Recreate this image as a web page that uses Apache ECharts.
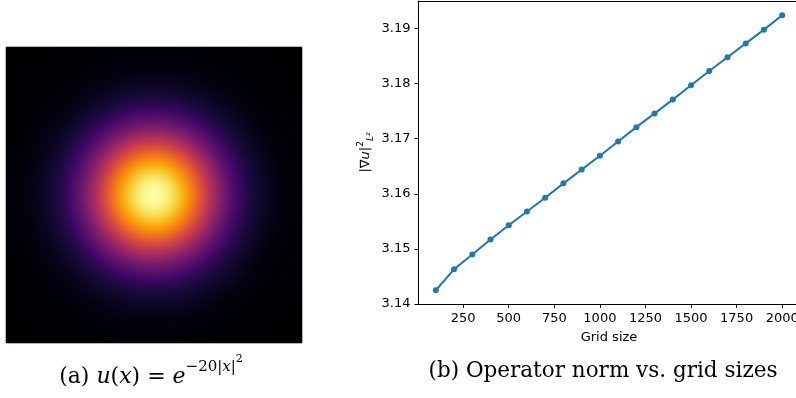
<!DOCTYPE html>
<html>
<head>
<meta charset="utf-8">
<script src="https://cdn.jsdelivr.net/npm/echarts@6/dist/echarts.min.js"></script>
<style>
  html, body { margin: 0; padding: 0; background: #fff; }
  #chart { width: 796px; height: 398px; }
</style>
</head>
<body>
<div id="chart"></div>
<script>
// Operator norm measured at each grid size
const gridSizes = [100, 200, 300, 400, 500, 600, 700, 800, 900, 1000,
                   1100, 1200, 1300, 1400, 1500, 1600, 1700, 1800, 1900, 2000];
const operatorNorms = [3.1425, 3.1463, 3.1490, 3.1517, 3.1543, 3.1568, 3.1593, 3.1619, 3.1644, 3.1669,
                       3.1695, 3.1721, 3.1746, 3.1771, 3.1797, 3.1823, 3.1848, 3.1873, 3.1898, 3.1924];
const xTicks = [250, 500, 750, 1000, 1250, 1500, 1750, 2000];
const yTicks = [3.14, 3.15, 3.16, 3.17, 3.18, 3.19];

// Test function u(x) = exp(-decayRate * |x|^2) sampled on [-0.5, 0.5]^2
const decayRate = 20;
const imageCells = 148;
const inferno = ['#000004', '#160b39', '#420a68', '#6a176e', '#932667', '#bc3754',
                 '#dd513a', '#f37819', '#fca50a', '#f6d746', '#fcffa4'];

const cellIndex = [];
for (let i = 0; i < imageCells; i++) cellIndex.push(i);
const fieldValues = [];
for (let i = 0; i < imageCells; i++) {
  const x = -0.5 + (i + 0.5) / imageCells;
  for (let j = 0; j < imageCells; j++) {
    const y = -0.5 + (j + 0.5) / imageCells;
    fieldValues.push([i, j, Math.exp(-decayRate * (x * x + y * y))]);
  }
}

const normPoints = gridSizes.map((g, k) => [g, operatorNorms[k]]);

const tickFont = { fontFamily: 'DejaVu Sans', fontSize: 13, color: '#000' };
const spine = { show: true, lineStyle: { color: '#000', width: 1 } };

const chart = echarts.init(document.getElementById('chart'), null, { renderer: 'canvas' });
chart.setOption({
  animation: false,
  backgroundColor: '#fff',
  grid: [
    { left: 6, top: 47, width: 296, height: 296, containLabel: false, outerBoundsMode: 'none' },
    { left: 418.5, top: 1, width: 381, height: 303, containLabel: false, outerBoundsMode: 'none' }
  ],
  visualMap: {
    type: 'continuous', show: false, seriesIndex: 0, min: 0, max: 1,
    inRange: { color: inferno }
  },
  xAxis: [
    { type: 'category', gridIndex: 0, data: cellIndex, show: false },
    {
      type: 'value', gridIndex: 1, min: 5, max: 2095, position: 'bottom',
      axisLine: Object.assign({ onZero: false }, spine),
      axisTick: { show: true, inside: false, length: 4, customValues: xTicks, lineStyle: { color: '#000', width: 1 } },
      axisLabel: Object.assign({ customValues: xTicks, margin: 8, formatter: v => String(v) }, tickFont),
      splitLine: { show: false },
      name: 'Grid size', nameLocation: 'middle', nameGap: 27,
      nameTextStyle: tickFont
    },
    {
      type: 'value', gridIndex: 1, min: 5, max: 2095, position: 'top',
      axisLine: Object.assign({ onZero: false }, spine),
      axisTick: { show: false }, axisLabel: { show: false }, splitLine: { show: false }
    }
  ],
  yAxis: [
    { type: 'category', gridIndex: 0, data: cellIndex, show: false },
    {
      type: 'value', gridIndex: 1, min: 3.14, max: 3.195,
      axisLine: Object.assign({ onZero: false }, spine),
      axisTick: { show: true, inside: false, length: 4, customValues: yTicks, lineStyle: { color: '#000', width: 1 } },
      axisLabel: Object.assign({ customValues: yTicks, margin: 8, formatter: v => v.toFixed(2) }, tickFont),
      splitLine: { show: false },
      name: '{n||∇}{i|u}{n||}{s|2}{b|L²}', nameLocation: 'middle', nameGap: 46, nameRotate: 90,
      nameTextStyle: {
        rich: {
          n: { fontFamily: 'DejaVu Sans', fontSize: 13, color: '#000', verticalAlign: 'bottom', lineHeight: 16 },
          i: { fontFamily: 'DejaVu Sans', fontStyle: 'italic', fontSize: 13, color: '#000', verticalAlign: 'bottom', lineHeight: 16 },
          s: { fontFamily: 'DejaVu Sans', fontSize: 9, color: '#000', verticalAlign: 'top', lineHeight: 16 },
          b: { fontFamily: 'DejaVu Sans', fontStyle: 'italic', fontSize: 9, color: '#000', verticalAlign: 'bottom', lineHeight: 12, padding: [0, 0, -3, 0] }
        }
      }
    }
  ],
  series: [
    {
      type: 'heatmap', xAxisIndex: 0, yAxisIndex: 0, data: fieldValues,
      progressive: 0, emphasis: { disabled: true }, silent: true
    },
    {
      type: 'line', xAxisIndex: 1, yAxisIndex: 1, data: normPoints,
      symbol: 'circle', symbolSize: 6, showSymbol: true,
      lineStyle: { color: '#1f77b4', width: 2 },
      itemStyle: { color: '#1f77b4' }
    }
  ],
  graphic: [
    {
      type: 'text', x: 151, y: 388,
      style: {
        text: '{n|(a) }{i|u}{n|(}{i|x}{n|) = }{i|e}{s|−20|}{si|x}{s||}{t|2}',
        align: 'center', verticalAlign: 'bottom',
        rich: {
          n: { fontFamily: 'DejaVu Serif', fontSize: 22, fill: '#000', verticalAlign: 'bottom', lineHeight: 26 },
          i: { fontFamily: 'DejaVu Serif', fontStyle: 'italic', fontSize: 22, fill: '#000', verticalAlign: 'bottom', lineHeight: 26 },
          s: { fontFamily: 'DejaVu Serif', fontSize: 15, fill: '#000', verticalAlign: 'bottom', lineHeight: 18, padding: [0, 0, 13, 0] },
          si: { fontFamily: 'DejaVu Serif', fontStyle: 'italic', fontSize: 15, fill: '#000', verticalAlign: 'bottom', lineHeight: 18, padding: [0, 0, 13, 0] },
          t: { fontFamily: 'DejaVu Serif', fontSize: 11, fill: '#000', verticalAlign: 'bottom', lineHeight: 13, padding: [0, 0, 23, 0] }
        }
      }
    },
    {
      type: 'text', x: 603, y: 382,
      style: {
        text: '(b) Operator norm vs. grid sizes',
        font: '21.5px "DejaVu Serif"', fill: '#000',
        align: 'center', verticalAlign: 'bottom'
      }
    }
  ]
});
</script>
</body>
</html>
